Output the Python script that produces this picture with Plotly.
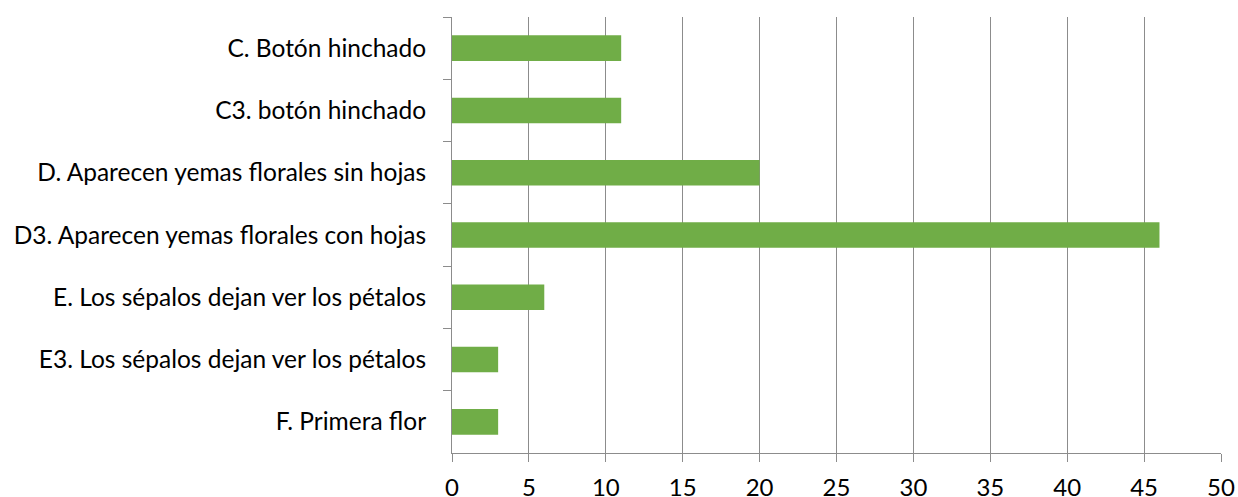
import plotly.graph_objects as go

categories = [
    "C. Botón hinchado",
    "C3. botón hinchado",
    "D. Aparecen yemas florales sin hojas",
    "D3. Aparecen yemas florales con hojas",
    "E. Los sépalos dejan ver los pétalos",
    "E3. Los sépalos dejan ver los pétalos",
    "F. Primera flor",
]
values = [11, 11, 20, 46, 6, 3, 3]
x_ticks = [0, 5, 10, 15, 20, 25, 30, 35, 40, 45, 50]

fig = go.Figure(go.Bar(
    y=categories, x=values, orientation="h",
    marker=dict(color="#70AD47", line=dict(width=0)),
    width=0.41,
))

font = dict(family="Lato, Open Sans, sans-serif", size=24, color="#000000")

fig.update_layout(
    width=1238, height=497,
    margin=dict(l=452, r=17, t=17, b=44),
    plot_bgcolor="white", paper_bgcolor="white",
    showlegend=False,
    font=font,
)
fig.update_xaxes(
    range=[0, 50], tickvals=x_ticks, ticktext=[str(v) for v in x_ticks],
    showgrid=True, gridcolor="#8c8c8c", gridwidth=1,
    showline=True, linecolor="#8c8c8c", linewidth=1,
    ticks="outside", ticklen=8, tickcolor="#8c8c8c",
    zeroline=False, tickfont=dict(size=24),
    automargin=False, ticklabelstandoff=5, ticklabeloverflow="allow",
)
fig.update_yaxes(
    categoryorder="array", categoryarray=categories, autorange="reversed",
    showgrid=False,
    showline=True, linecolor="#8c8c8c", linewidth=1,
    ticks="outside", ticklen=8, tickcolor="#8c8c8c", tickson="boundaries",
    ticklabelstandoff=20, automargin=False,
    tickfont=dict(size=24.5),
)

fig.write_html(
    "out.html",
    config={"displayModeBar": False},
    post_script="document.body.style.margin='0';document.body.style.overflow='hidden';",
)
